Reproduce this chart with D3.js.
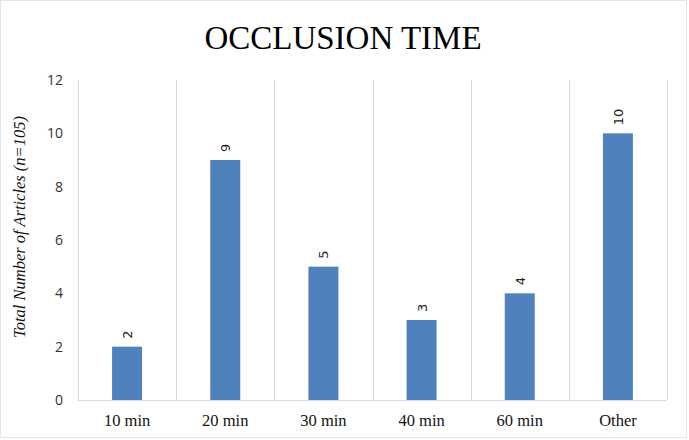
<!DOCTYPE html>
<html>
<head>
<meta charset="utf-8">
<script src="https://cdn.jsdelivr.net/npm/d3@7"></script>
<style>
  body { margin: 0; background: #fff; }
</style>
</head>
<body>
<div id="chart"></div>
<script>
// Chart data
const categories = ["10 min", "20 min", "30 min", "40 min", "60 min", "Other"];
const counts = [2, 9, 5, 3, 4, 10];
const yTicks = [0, 2, 4, 6, 8, 10, 12];

const width = 689, height = 440;
const plot = { left: 78, right: 667, top: 80, bottom: 400 };

const svg = d3.select("#chart").append("svg")
  .attr("width", width)
  .attr("height", height);

// faint frame like the source image
svg.append("rect")
  .attr("x", 0.5).attr("y", 0.5)
  .attr("width", width - 3).attr("height", height - 3)
  .attr("fill", "#fff")
  .attr("stroke", "#e4e4e4");

let x = d3.scaleBand()
  .domain(categories)
  .range([plot.left, plot.right])
  .paddingInner(0)
  .paddingOuter(0);

let y = d3.scaleLinear()
  .domain([0, 12])
  .range([plot.bottom, plot.top]);

// vertical separators between categories
let seps = [plot.left].concat(categories.map(c => x(c) + x.bandwidth()));
svg.selectAll(".sep").data(seps).enter()
  .append("line")
  .attr("class", "sep")
  .attr("x1", d => Math.round(d) + 0.5)
  .attr("x2", d => Math.round(d) + 0.5)
  .attr("y1", plot.top)
  .attr("y2", plot.bottom)
  .attr("stroke", "#d9d9d9");

// baseline
svg.append("line")
  .attr("x1", plot.left).attr("x2", plot.right)
  .attr("y1", plot.bottom + 0.5).attr("y2", plot.bottom + 0.5)
  .attr("stroke", "#d9d9d9");

// y axis labels
let yAxis = d3.axisLeft(y).tickValues(yTicks).tickSize(0).tickPadding(15);
let gy = svg.append("g")
  .attr("transform", `translate(${plot.left}, 0)`)
  .call(yAxis);
gy.select(".domain").remove();
gy.selectAll("text")
  .attr("font-family", "'Open Sans', 'Liberation Sans', Arial, sans-serif")
  .attr("font-size", 14)
  .attr("fill", "#333");

// x axis labels
let xAxis = d3.axisBottom(x).tickSize(0).tickPadding(14);
let gx = svg.append("g")
  .attr("transform", `translate(0, ${plot.bottom})`)
  .call(xAxis);
gx.select(".domain").remove();
gx.selectAll("text")
  .attr("font-family", "'Liberation Serif', 'Times New Roman', serif")
  .attr("font-size", 16.5)
  .attr("fill", "#111");

// bars
const barW = 30;
svg.selectAll(".bar").data(counts).enter()
  .append("rect")
  .attr("class", "bar")
  .attr("x", (d, i) => x(categories[i]) + x.bandwidth() / 2 - barW / 2)
  .attr("y", d => y(d))
  .attr("width", barW)
  .attr("height", d => y(0) - y(d))
  .attr("fill", "#4f81bd");

// value labels, rotated
svg.selectAll(".val").data(counts).enter()
  .append("text")
  .attr("class", "val")
  .attr("transform", (d, i) =>
    `translate(${x(categories[i]) + x.bandwidth() / 2 + 5}, ${y(d) - 8}) rotate(-90)`)
  .attr("text-anchor", "start")
  .attr("font-family", "'DejaVu Sans', sans-serif")
  .attr("font-size", 13)
  .attr("fill", "#222")
  .text(d => d);

// title
svg.append("text")
  .attr("x", 343)
  .attr("y", 49)
  .attr("text-anchor", "middle")
  .attr("font-family", "'Liberation Serif', 'Times New Roman', serif")
  .attr("font-size", 33)
  .attr("fill", "#000")
  .text("OCCLUSION TIME");

// y axis title
svg.append("text")
  .attr("transform", `translate(25, 227) rotate(-90)`)
  .attr("text-anchor", "middle")
  .attr("font-family", "'Liberation Serif', 'Times New Roman', serif")
  .attr("font-style", "italic")
  .attr("font-size", 16.5)
  .attr("fill", "#111")
  .text("Total Number of Articles (n=105)");
</script>
</body>
</html>
